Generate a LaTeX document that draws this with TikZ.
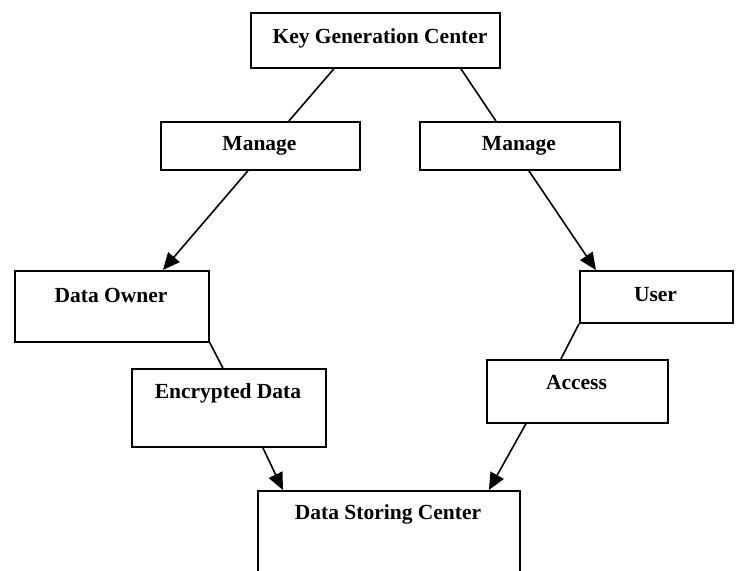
\documentclass[tikz,border=0pt]{standalone}
\usepackage{fontspec}
\setmainfont{Liberation Serif}
\usetikzlibrary{arrows.meta,calc}
\tikzset{
  box/.style={draw, line width=1.8pt, inner sep=0pt, anchor=north west},
  lbl/.style={font=\fontsize{21.5}{24}\selectfont\bfseries, inner sep=0pt},
  conn/.style={line width=1.6pt},
  arr/.style={line width=1.6pt, -{Triangle[length=17pt,width=15pt]}}
}
\begin{document}
\begin{tikzpicture}[x=1pt,y=-1pt]
\useasboundingbox (0,0) rectangle (738,570);
% boxes
\node[box, minimum width=249pt, minimum height=55pt] (kgc) at (250,12) {};
\node[box, minimum width=199pt, minimum height=48pt] (ml) at (160,121) {};
\node[box, minimum width=200pt, minimum height=48pt] (mr) at (419,121) {};
\node[box, minimum width=194pt, minimum height=71pt] (do) at (14,270) {};
\node[box, minimum width=153pt, minimum height=52pt] (us) at (579,270) {};
\node[box, minimum width=194pt, minimum height=78pt] (ed) at (131,368) {};
\node[box, minimum width=181pt, minimum height=63pt] (ac) at (486,359) {};
\node[box, minimum width=262pt, minimum height=110pt] (dsc) at (257,490) {};
% labels
\node[lbl] (tkgc) at (380,38) {Key Generation Center};
\node[lbl] (tml) at (259.5,146) {Manage};
\node[lbl] (tmr) at (519,146) {Manage};
\node[lbl] (tdo) at (111,295) {Data Owner};
\node[lbl] (tus) at (655.5,295) {User};
\node[lbl] (ted) at (228,393) {Encrypted Data};
\node[lbl] (tac) at (576.5,383) {Access};
\node[lbl] (tdsc) at (388,514) {Data Storing Center};
% connectors
\draw[conn] ([xshift=-41.5pt]kgc.south) -- ([xshift=28.5pt]ml.north);
\draw[conn] ([xshift=85.5pt]kgc.south) -- ([xshift=-24pt]mr.north);
\draw[arr] ([xshift=-12.5pt]ml.south) -- ([xshift=51pt]do.north);
\draw[arr] ([xshift=9pt]mr.south) -- ([xshift=-60.5pt]us.north);
\draw[conn] (do.south east) -- ([xshift=-6pt]ed.north);
\draw[conn] (us.south west) -- ([xshift=-16.5pt]ac.north);
\draw[arr] ([xshift=34pt]ed.south) -- ([xshift=-106pt]dsc.north);
\draw[arr] ([xshift=-51.5pt]ac.south) -- ([xshift=100pt]dsc.north);
\end{tikzpicture}
\end{document}
